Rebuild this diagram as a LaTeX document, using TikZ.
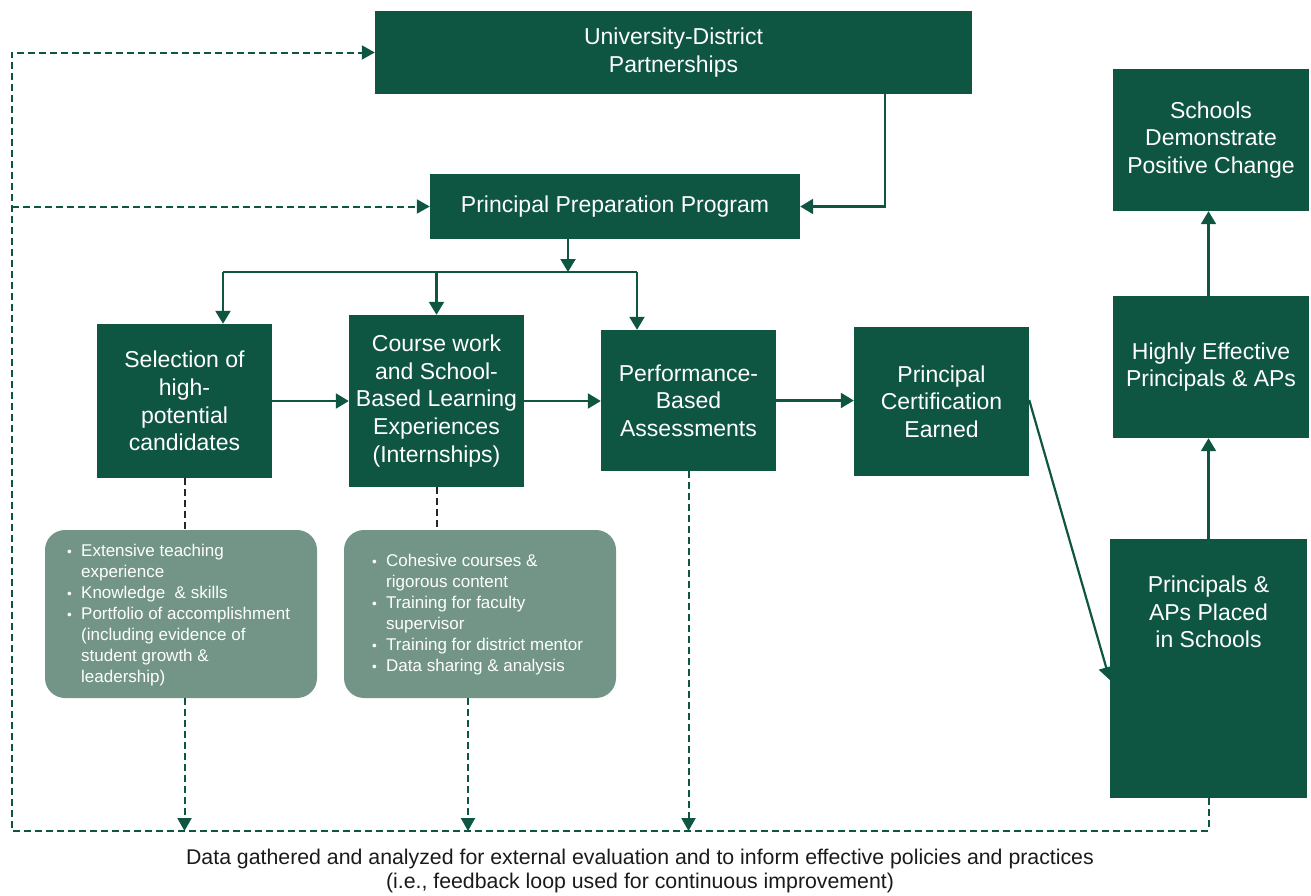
\documentclass[tikz,border=0pt]{standalone}
\usepackage{fontspec}
\setmainfont{Liberation Sans}
\usetikzlibrary{arrows.meta,calc}
\definecolor{dkgreen}{HTML}{0E5642}
\definecolor{sage}{HTML}{729587}
\definecolor{captxt}{HTML}{1A1A1A}
\tikzset{
  box/.style={rectangle, fill=dkgreen, text=white, inner sep=0pt, align=center,
    font=\fontsize{23}{27.7}\selectfont},
  boxtext/.style={text=white, inner sep=0pt, align=center, font=\fontsize{23}{27.7}\selectfont},
  bullbox/.style={rectangle, fill=sage, rounded corners=20pt, inner sep=0pt,
    minimum width=272pt, minimum height=168pt},
  bulltext/.style={text=white, inner sep=0pt, align=left, anchor=north west,
    font=\fontsize{17}{21}\selectfont},
  conn/.style={draw=dkgreen, line width=2.2pt},
  arr/.style={conn, -{Triangle[length=13pt,width=15pt]}},
  dconn/.style={draw=dkgreen, line width=2pt, dash pattern=on 7pt off 4pt},
  darr/.style={dconn, -{Triangle[length=13pt,width=14pt]}},
  bdash/.style={draw=black!85, line width=2pt, dash pattern=on 7pt off 4pt},
}
\newcommand{\bul}{\makebox[14pt][l]{\raisebox{0.5pt}{\scalebox{0.8}{•}}}}
\newcommand{\ind}{\hspace*{14pt}}
\begin{document}
\begin{tikzpicture}[x=1pt,y=-1pt]
\useasboundingbox (0,0) rectangle (1311,895);

% main boxes
\node[box, minimum width=597pt, minimum height=83pt] (udp) at (673.5,52.5) {University-District\\Partnerships};
\node[box, minimum width=370pt, minimum height=65pt] (ppp) at (615,206.5) {Principal Preparation Program};
\node[box, minimum width=175pt, minimum height=154pt] (sel) at (184.5,401) {Selection of\\high-\\potential\\candidates};
\node[box, minimum width=175pt, minimum height=172pt] (course) at (436.5,401) {Course work\\and School-\\Based Learning\\Experiences\\(Internships)};
\node[box, minimum width=175pt, minimum height=141pt] (perf) at (688.5,400.5) {Performance-\\Based\\Assessments};
\node[box, minimum width=175pt, minimum height=149pt] (cert) at (941.5,401.5) {Principal\\Certification\\Earned};
\node[box, minimum width=196pt, minimum height=142pt] (schools) at (1211,140) {Schools\\Demonstrate\\Positive Change};
\node[box, minimum width=196pt, minimum height=142pt] (highly) at (1211,367) {Highly Effective\\Principals \& APs};
\node[box, minimum width=197pt, minimum height=259pt] (placed) at (1208.5,668.5) {};
\node[boxtext] (placedtxt) at (1208.5,612) {Principals \&\\APs Placed\\in Schools};

% bullet boxes
\node[bullbox] (bull1) at (181,614) {};
\node[bullbox] (bull2) at (480,614) {};
\node[bulltext] (bt1) at (67,544) {\bul Extensive teaching\\\ind experience\\\bul Knowledge\ \ \& skills\\\bul Portfolio of accomplishment\\\ind (including evidence of\\\ind student growth \&\\\ind leadership)};
\node[bulltext] (bt2) at (372,554) {\bul Cohesive courses \&\\\ind rigorous content\\\bul Training for faculty\\\ind supervisor\\\bul Training for district mentor\\\bul Data sharing \& analysis};

% caption
\node[text=captxt, inner sep=0pt, align=center, font=\fontsize{21.3}{24}\selectfont] (cap) at (640,871)
  {Data gathered and analyzed for external evaluation and to inform effective policies and practices\\(i.e., feedback loop used for continuous improvement)};

% solid connectors
\draw[arr] ($(udp.south)+(211.5,0)$) |- (ppp.east);
\coordinate (hub) at (568,272);
\coordinate (bl) at (223,272);
\coordinate (br) at (637,272);
\draw[arr] (hub |- ppp.south) -- (hub);
\draw[conn] (bl) -- (br);
\draw[arr] (bl) -- (bl |- sel.north);
\draw[arr] (course.north |- bl) -- (course.north);
\draw[arr] (br) -- (br |- perf.north);
\draw[arr] (sel.east) -- (course.west);
\draw[arr] (course.east) -- (course.east -| perf.west);
\draw[arr] (perf.east) -- (perf.east -| cert.west);
\draw[arr] ($(cert.east)+(0,-1.5)$) -- ($(placed.west)+(0,11.5)$);
\draw[arr] (placed.north) -- (placed.north |- highly.south);
\draw[arr] (placed.north |- highly.north) -- (placed.north |- schools.south);

% dashed feedback loop
\coordinate (lc) at (12,831);
\draw[darr] (placed.south) |- (lc) |- (udp.west);
\draw[darr] (lc |- ppp.west) -- (ppp.west);
\draw[bdash] (sel.south) -- (sel.south |- bull1.north);
\draw[darr] (sel.south |- bull1.south) -- (sel.south |- lc);
\draw[bdash] (course.south) -- (course.south |- bull2.north);
\coordinate (b2s) at ($(bull2.south)+(-12,0)$);
\draw[darr] (b2s) -- (b2s |- lc);
\draw[darr] (perf.south) -- (perf.south |- lc);
\end{tikzpicture}
\end{document}
